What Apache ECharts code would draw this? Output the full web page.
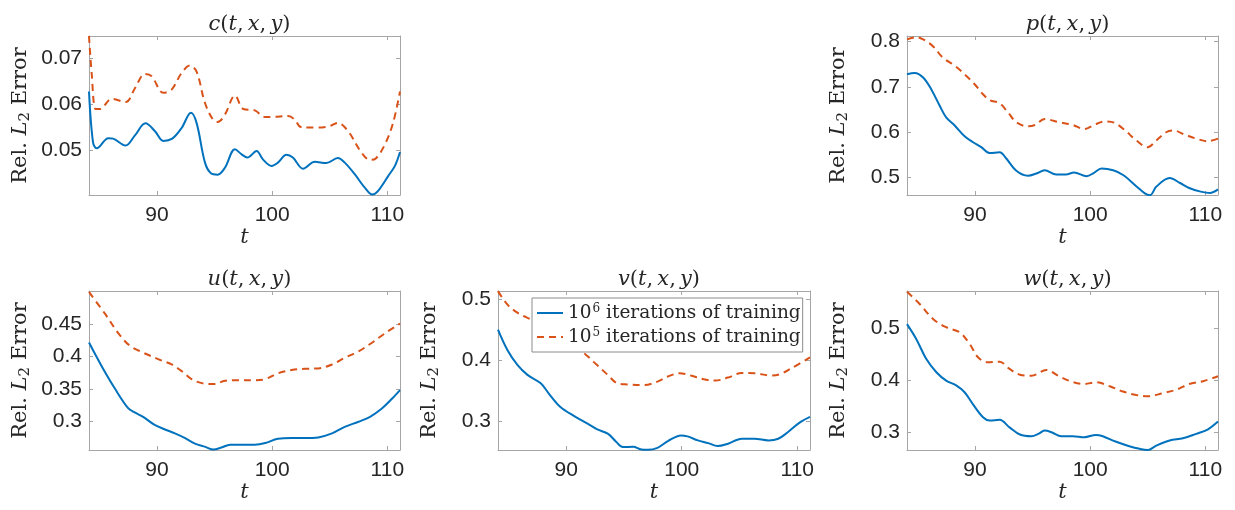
<!DOCTYPE html>
<html><head><meta charset="utf-8">
<script src="https://cdn.jsdelivr.net/npm/echarts@6/dist/echarts.min.js"></script>
<style>html,body{margin:0;padding:0;background:#fff}#c{width:1235px;height:510px}</style>
</head><body><div id="c"></div>
<script>
// ---- data (t values and relative L2 errors) ----
const xTicks = [90, 100, 110];

const cT6 = [84.1,84.45,84.77,85.78,86.2,87.28,88.09,89.0,89.83,90.55,91.33,92.14,92.95,93.44,94.17,94.69,95.27,95.9,96.77,97.35,97.85,98.65,99.2,99.94,100.5,101.24,101.8,102.68,103.7,104.7,105.7,106.3,107.17,108.04,108.7,109.2,110.1,110.66,111.1];
const cV6 = [0.0628,0.0518,0.0505,0.0527,0.0526,0.0511,0.0533,0.0559,0.0542,0.0521,0.0526,0.0549,0.0582,0.056,0.0474,0.0451,0.0448,0.0463,0.0503,0.0492,0.0485,0.0499,0.0481,0.0467,0.0474,0.0491,0.0485,0.0461,0.0476,0.0473,0.0484,0.0474,0.0449,0.0420,0.0405,0.0413,0.0446,0.0467,0.0497];
const cT5 = [84.1,84.33,84.68,85.05,86.06,87.28,88.09,88.96,89.54,90.55,91.27,92.14,92.86,93.44,94.17,94.89,95.27,95.9,96.77,97.5,98.5,99.36,99.94,101.39,101.97,102.5,104.0,105.0,105.7,106.6,107.75,108.5,109.0,109.8,110.5,111.1];
const cV5 = [0.0748,0.0668,0.059,0.059,0.0612,0.0605,0.0635,0.0666,0.0661,0.0625,0.0632,0.0668,0.0684,0.0671,0.0603,0.0566,0.0562,0.0578,0.0619,0.059,0.0587,0.0573,0.0573,0.0575,0.0567,0.0551,0.055,0.0553,0.056,0.0542,0.0496,0.048,0.0483,0.0514,0.056,0.0628];
const cYTicks = [0.05, 0.06, 0.07];

const pT6 = [84.1,84.77,85.5,86.2,86.93,87.5,88.24,89.1,89.83,90.55,91.27,92.14,92.72,93.59,94.6,95.33,96.05,97.06,97.9,98.6,99.7,100.3,101.0,102.0,102.9,104.0,104.75,105.2,105.75,106.9,107.8,108.6,109.6,110.4,111.1];
const pV6 = [0.728,0.731,0.721,0.695,0.659,0.633,0.615,0.591,0.578,0.567,0.554,0.556,0.542,0.515,0.504,0.509,0.516,0.507,0.507,0.511,0.503,0.510,0.520,0.516,0.505,0.481,0.465,0.461,0.480,0.499,0.488,0.477,0.469,0.466,0.474];
const pT5 = [84.1,84.9,85.5,86.35,87.2,88.24,89.1,89.97,90.7,91.27,92.14,92.86,93.6,94.6,95.2,96.05,97.35,98.5,99.5,100.4,101.3,102.1,103.0,104.0,105.0,105.75,106.6,107.2,108.2,109.2,110.2,111.1];
const pV5 = [0.805,0.810,0.805,0.790,0.765,0.747,0.728,0.706,0.684,0.671,0.664,0.644,0.622,0.613,0.616,0.629,0.622,0.616,0.607,0.617,0.624,0.621,0.605,0.582,0.567,0.582,0.600,0.604,0.595,0.586,0.580,0.586];
const pYTicks = [0.5, 0.6, 0.7, 0.8];

const uT6 = [84.1,85.2,86.36,87.5,88.1,88.8,89.8,90.7,91.56,92.4,93.3,94.2,94.9,95.6,96.35,97.35,98.5,99.4,100.5,101.7,102.85,104.0,105.2,106.3,107.5,108.5,109.5,110.4,111.1];
const uV6 = [0.4216,0.385,0.350,0.320,0.313,0.3066,0.294,0.287,0.281,0.274,0.265,0.260,0.2558,0.259,0.2635,0.2635,0.2635,0.266,0.2726,0.2736,0.2736,0.2747,0.281,0.291,0.299,0.3066,0.319,0.3345,0.348];
const uT5 = [84.1,85.5,86.65,87.65,88.8,90.1,91.27,92.14,93.0,93.9,94.9,95.9,97.06,98.5,99.4,100.5,101.7,102.85,104.0,105.2,106.3,107.5,108.6,109.8,111.1];
const uV5 = [0.500,0.466,0.436,0.4166,0.406,0.396,0.3877,0.3775,0.365,0.3588,0.3573,0.3623,0.3634,0.3634,0.365,0.374,0.379,0.381,0.3816,0.3877,0.398,0.408,0.4206,0.436,0.451];
const uYTicks = [0.3, 0.35, 0.4, 0.45];

const vT6 = [84.1,84.9,85.78,86.65,87.8,88.5,89.5,90.7,91.85,92.7,93.6,94.3,94.9,95.8,96.5,97.06,97.9,98.8,99.94,100.5,101.4,102.3,103.1,104.0,105.2,106.3,107.5,108.35,109.2,110.2,111.1];
const vV6 = [0.450,0.417,0.392,0.3757,0.362,0.345,0.323,0.308,0.2956,0.286,0.279,0.2663,0.257,0.2575,0.253,0.2525,0.2558,0.2668,0.2762,0.2746,0.268,0.2635,0.2586,0.2624,0.2707,0.2707,0.268,0.2707,0.2818,0.2972,0.3066];
const vT5 = [84.1,84.9,85.78,86.65,88.0,89.0,90.0,91.0,91.7,92.4,93.6,94.4,95.3,96.77,97.9,98.8,99.8,100.8,101.9,102.9,104.0,105.2,106.3,107.75,108.5,109.5,111.1];
const vV5 = [0.5135,0.4917,0.478,0.4696,0.457,0.447,0.432,0.418,0.409,0.3967,0.3757,0.362,0.360,0.359,0.3646,0.373,0.3785,0.3746,0.3685,0.3663,0.3713,0.379,0.3785,0.3746,0.3768,0.3867,0.4044];
const vYTicks = [0.3, 0.4, 0.5];

const wT6 = [84.1,84.9,85.78,86.65,87.5,88.4,89.1,89.8,90.7,91.27,92.14,93.0,93.9,94.9,95.5,96.05,96.65,97.5,98.5,99.5,100.5,101.1,102.2,103.4,104.3,105.0,105.75,106.9,108.06,109.2,110.2,111.1];
const wV6 = [0.508,0.4796,0.441,0.4157,0.3997,0.390,0.3773,0.355,0.3294,0.323,0.3243,0.310,0.2962,0.293,0.2974,0.3038,0.3006,0.293,0.293,0.291,0.2955,0.293,0.2827,0.2738,0.2687,0.2665,0.275,0.2847,0.289,0.2974,0.3058,0.321];
const wT5 = [84.1,85.2,86.36,87.5,88.67,89.54,90.26,91.1,92.14,93.0,93.9,94.9,96.2,97.35,98.5,99.5,100.5,101.7,102.85,104.0,105.0,106.3,107.5,108.6,109.8,111.1];
const wV5 = [0.570,0.5466,0.518,0.502,0.4923,0.47,0.4444,0.4348,0.436,0.422,0.411,0.409,0.420,0.4074,0.3968,0.393,0.3965,0.3888,0.3786,0.372,0.3696,0.3754,0.3824,0.393,0.3984,0.408];
const wYTicks = [0.3, 0.4, 0.5];

const seriesNames = ['1e6', '1e5'];
const legendLabels = {'1e6': '{r|10}{sup|6}{r| iterations of training}', '1e5': '{r|10}{sup|5}{r| iterations of training}'};

// ---- layout ----
const panels = [
  {title: 'c', box: [89, 36, 311, 159], ymin: 0.0404, ymax: 0.0748, yt: cYTicks, s6: [cT6, cV6], s5: [cT5, cV5], dec: 2},
  {title: 'p', box: [907, 36, 311, 159], ymin: 0.4615, ymax: 0.8125, yt: pYTicks, s6: [pT6, pV6], s5: [pT5, pV5], dec: 1},
  {title: 'u', box: [89, 291, 311, 159], ymin: 0.2552, ymax: 0.5015, yt: uYTicks, s6: [uT6, uV6], s5: [uT5, uV5], dec: 2},
  {title: 'v', box: [498, 291, 312, 159], ymin: 0.2522, ymax: 0.5137, yt: vYTicks, s6: [vT6, vV6], s5: [vT5, vV5], dec: 1},
  {title: 'w', box: [907, 291, 311, 159], ymin: 0.2665, ymax: 0.5715, yt: wYTicks, s6: [wT6, wV6], s5: [wT5, wV5], dec: 1}
];
const XMIN = 84.1, XMAX = 111.1;
const AX = '#a6a6a6', TXT = '#262626';
const SANS = 'Liberation Sans, Arial, Helvetica, sans-serif';
const SERIF = 'DejaVu Serif, Liberation Serif, serif';
const BLUE = '#0072BD', ORANGE = '#D95319';

const grid = [], xAxis = [], yAxis = [], series = [], title = [];
function fmtY(v, dec) {
  let s = v.toFixed(dec);
  if (dec === 2 && s.endsWith('0')) s = s.slice(0, -1);
  return s;
}
panels.forEach((p, i) => {
  const [l, t, w, h] = p.box;
  grid.push({left: l, top: t, width: w, height: h, show: false, containLabel: false});
  const tickCommon = {show: true, inside: true, length: 4, lineStyle: {color: AX, width: 1}};
  xAxis.push({
    type: 'value', gridIndex: i, min: XMIN, max: XMAX, position: 'bottom',
    axisLine: {show: true, onZero: false, lineStyle: {color: AX, width: 1}},
    axisTick: Object.assign({customValues: xTicks}, tickCommon),
    axisLabel: {customValues: xTicks, color: TXT, fontFamily: SANS, fontSize: 21, margin: 10, formatter: v => String(Math.round(v))},
    splitLine: {show: false},
    name: 't', nameLocation: 'middle', nameGap: 31,
    nameTextStyle: {fontFamily: SERIF, fontStyle: 'italic', fontSize: 21, color: TXT}
  });
  xAxis.push({
    type: 'value', gridIndex: i, min: XMIN, max: XMAX, position: 'top',
    axisLine: {show: true, onZero: false, lineStyle: {color: AX, width: 1}},
    axisTick: Object.assign({customValues: xTicks}, tickCommon),
    axisLabel: {show: false}, splitLine: {show: false}
  });
  yAxis.push({
    type: 'value', gridIndex: i, min: p.ymin, max: p.ymax, position: 'left',
    axisLine: {show: true, onZero: false, lineStyle: {color: AX, width: 1}},
    axisTick: Object.assign({customValues: p.yt}, tickCommon),
    axisLabel: {customValues: p.yt, color: TXT, fontFamily: SANS, fontSize: 21, margin: 7, formatter: v => fmtY(v, p.dec)},
    splitLine: {show: false},
    name: '{r|Rel. }{i|L}{s|2}{r| Error}', nameLocation: 'middle', nameGap: 56, nameRotate: 90,
    nameTextStyle: {
      color: TXT,
      rich: {
        r: {fontFamily: SERIF, fontSize: 21, color: TXT},
        i: {fontFamily: SERIF, fontSize: 21, fontStyle: 'italic', color: TXT},
        s: {fontFamily: SERIF, fontSize: 15, color: TXT, padding: [9, 0, 0, 0]}
      }
    }
  });
  yAxis.push({
    type: 'value', gridIndex: i, min: p.ymin, max: p.ymax, position: 'right',
    axisLine: {show: true, onZero: false, lineStyle: {color: AX, width: 1}},
    axisTick: Object.assign({customValues: p.yt}, tickCommon),
    axisLabel: {show: false}, splitLine: {show: false}
  });
  const mk = (arr) => arr[0].map((tv, k) => [tv, arr[1][k]]);
  series.push({
    name: seriesNames[0], type: 'line', xAxisIndex: 2 * i, yAxisIndex: 2 * i,
    data: mk(p.s6), symbol: 'none', smooth: 0.35, animation: false, clip: true,
    lineStyle: {color: BLUE, width: 2}, itemStyle: {color: BLUE}
  });
  series.push({
    name: seriesNames[1], type: 'line', xAxisIndex: 2 * i, yAxisIndex: 2 * i,
    data: mk(p.s5), symbol: 'none', smooth: 0.35, animation: false, clip: true,
    lineStyle: {color: ORANGE, width: 2, type: [7, 5]}, itemStyle: {color: ORANGE}
  });
  title.push({
    text: '{i|' + p.title + '}{r|(}{i|t}{r|,\u2009}{i|x}{r|,\u2009}{i|y}{r|)}',
    left: l + w / 2, top: t - 27, textAlign: 'center',
    textStyle: {
      rich: {
        i: {fontFamily: SERIF, fontStyle: 'italic', fontWeight: 'normal', fontSize: 21, color: TXT},
        r: {fontFamily: SERIF, fontWeight: 'normal', fontSize: 21, color: TXT}
      }
    }
  });
});

const chart = echarts.init(document.getElementById('c'), null, {renderer: 'canvas'});
chart.setOption({
  backgroundColor: '#fff',
  animation: false,
  title, grid, xAxis, yAxis, series,
  legend: {
    data: seriesNames, orient: 'vertical', left: 532, top: 298,
    itemWidth: 26, itemHeight: 12, itemGap: 4,
    padding: [5, 2, 5, 4],
    backgroundColor: '#fff', borderColor: '#8c8c8c', borderWidth: 1,
    itemStyle: {opacity: 0},
    formatter: n => legendLabels[n],
    textStyle: {
      rich: {
        r: {fontFamily: SERIF, fontSize: 18.5, color: TXT, lineHeight: 21},
        sup: {fontFamily: SERIF, fontSize: 12, color: TXT, padding: [0, 0, 8, 1], lineHeight: 21}
      }
    }
  }
});
</script></body></html>
